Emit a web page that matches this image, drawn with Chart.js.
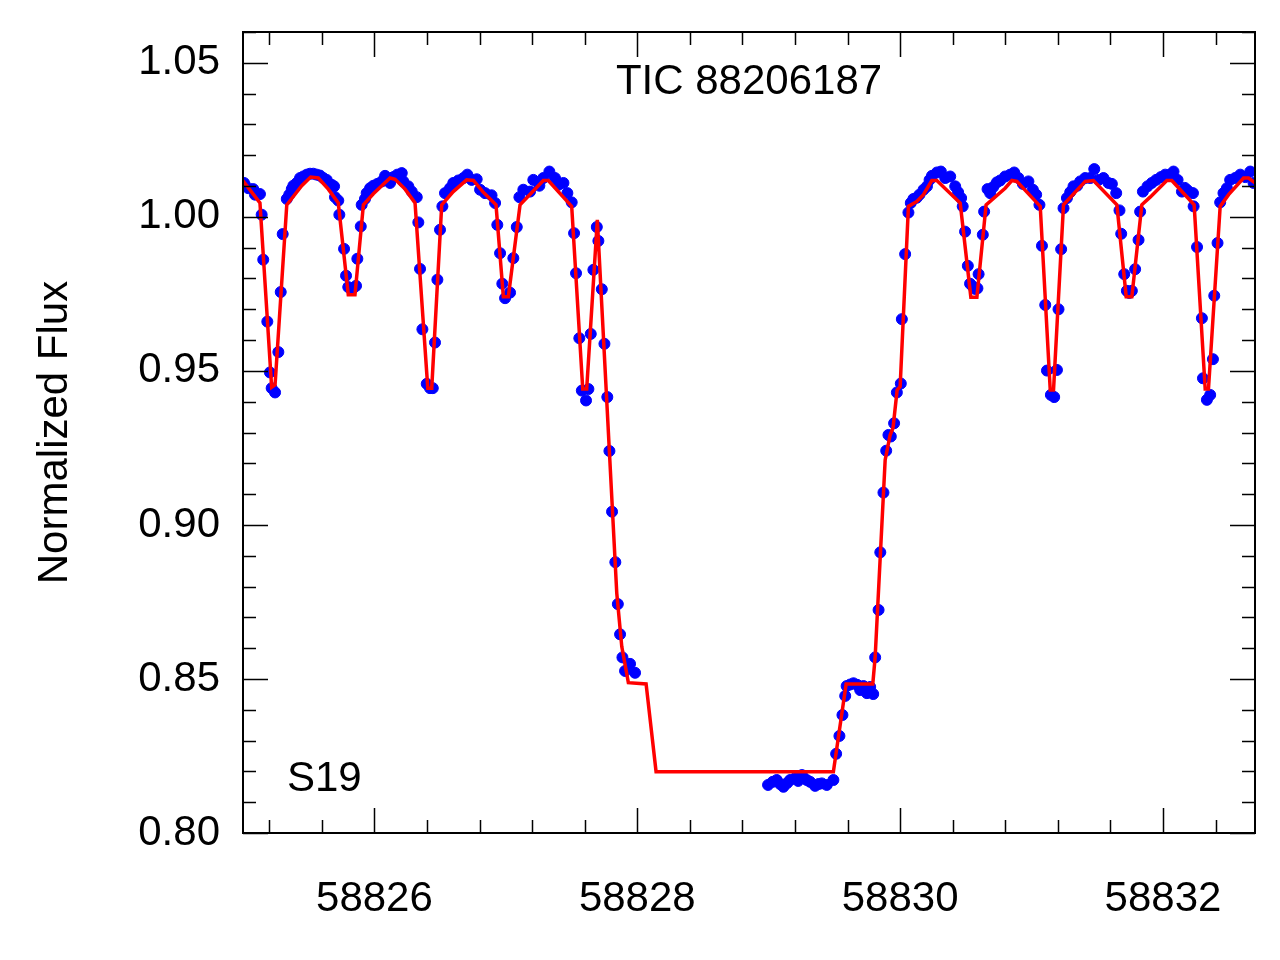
<!DOCTYPE html>
<html>
<head>
<meta charset="utf-8">
<script src="https://cdn.jsdelivr.net/npm/chart.js@4.4.1/dist/chart.umd.min.js"></script>
<style>
html, body { margin: 0; padding: 0; background: #fff; }
#wrap { width: 1280px; height: 960px; }
</style>
</head>
<body>
<div id="wrap"><canvas id="lc" width="1280" height="960"></canvas></div>
<script>
var obsTime = [
  58825.008, 58825.040, 58825.078, 58825.091, 58825.129, 58825.142, 58825.154, 58825.185, 58825.205, 58825.218,
  58825.244, 58825.269, 58825.287, 58825.302, 58825.333, 58825.352, 58825.371, 58825.383, 58825.409, 58825.434,
  58825.459, 58825.485, 58825.510, 58825.535, 58825.561, 58825.586, 58825.611, 58825.637, 58825.675, 58825.693,
  58825.700, 58825.725, 58825.733, 58825.769, 58825.784, 58825.801, 58825.839, 58825.860, 58825.870, 58825.896,
  58825.903, 58825.928, 58825.941, 58825.967, 58825.992,
  58826.022, 58826.056, 58826.081, 58826.119, 58826.144, 58826.174, 58826.208, 58826.220, 58826.258, 58826.284,
  58826.322, 58826.334, 58826.347, 58826.365, 58826.398, 58826.423, 58826.444, 58826.461, 58826.479, 58826.499,
  58826.517, 58826.537, 58826.575, 58826.600, 58826.638, 58826.677, 58826.707, 58826.740, 58826.778, 58826.804,
  58826.842, 58826.891, 58826.918, 58826.935, 58826.956, 58826.973, 58826.994,
  58827.032, 58827.057, 58827.083, 58827.103, 58827.133, 58827.184, 58827.209, 58827.255, 58827.285, 58827.331,
  58827.374, 58827.400, 58827.438, 58827.468, 58827.501, 58827.519, 58827.534, 58827.559, 58827.578, 58827.610,
  58827.628, 58827.646, 58827.666, 58827.692, 58827.704, 58827.730, 58827.750, 58827.772, 58827.788, 58827.808,
  58827.833, 58827.852, 58827.869, 58827.887, 58827.907, 58827.945, 58827.983,
  58828.995, 58829.030, 58829.061, 58829.087, 58829.112, 58829.140, 58829.163, 58829.201, 58829.224, 58829.253,
  58829.290, 58829.315, 58829.353, 58829.379, 58829.404, 58829.442, 58829.492, 58829.513, 58829.538, 58829.561,
  58829.582, 58829.593, 58829.620, 58829.645, 58829.673, 58829.696, 58829.721, 58829.747, 58829.772, 58829.795,
  58829.810, 58829.836, 58829.849, 58829.873, 58829.894, 58829.911, 58829.929, 58829.954, 58829.975,
  58830.005, 58830.013, 58830.038, 58830.063, 58830.081, 58830.101, 58830.126, 58830.147, 58830.178, 58830.204,
  58830.224, 58830.242, 58830.280, 58830.310, 58830.343, 58830.381, 58830.419, 58830.441, 58830.464, 58830.476,
  58830.494, 58830.515, 58830.532, 58830.553, 58830.571, 58830.588, 58830.597, 58830.629, 58830.639, 58830.665,
  58830.685, 58830.708, 58830.736, 58830.761, 58830.799, 58830.837, 58830.868, 58830.900, 58830.934, 58830.976,
  58831.010, 58831.035, 58831.060, 58831.079, 58831.104, 58831.117, 58831.147, 58831.172, 58831.193, 58831.205,
  58831.225, 58831.243, 58831.269, 58831.294, 58831.319, 58831.347, 58831.370, 58831.408, 58831.446, 58831.477,
  58831.510, 58831.547, 58831.585, 58831.611, 58831.644, 58831.669, 58831.682, 58831.705, 58831.725, 58831.743,
  58831.763, 58831.788, 58831.814, 58831.826, 58831.847, 58831.882, 58831.915, 58831.948, 58831.984,
  58832.017, 58832.050, 58832.080, 58832.111, 58832.144, 58832.166, 58832.187, 58832.228, 58832.233, 58832.259,
  58832.296, 58832.304, 58832.334, 58832.359, 58832.380, 58832.390, 58832.415, 58832.435, 58832.460, 58832.486,
  58832.511, 58832.549, 58832.588, 58832.626, 58832.664, 58832.689
];
var obsFlux = [
  1.0110, 1.0093, 1.0090, 1.0072, 1.0074, 1.0007, 0.9861, 0.9660, 0.9495, 0.9444,
  0.9430, 0.9561, 0.9756, 0.9944, 1.0058, 1.0072, 1.0090, 1.0101, 1.0110, 1.0126,
  1.0131, 1.0137, 1.0140, 1.0140, 1.0137, 1.0134, 1.0126, 1.0120, 1.0104, 1.0099,
  1.0064, 1.0053, 1.0007, 0.9896, 0.9809, 0.9772, 0.9769, 0.9776, 0.9864, 0.9969,
  1.0039, 1.0058, 1.0077, 1.0093, 1.0101,
  1.0107, 1.0115, 1.0133, 1.0110, 1.0129, 1.0137, 1.0142, 1.0115, 1.0099, 1.0082,
  1.0064, 0.9982, 0.9831, 0.9635, 0.9458, 0.9444, 0.9444, 0.9592, 0.9796, 0.9958,
  1.0034, 1.0077, 1.0093, 1.0110, 1.0118, 1.0126, 1.0137, 1.0120, 1.0122, 1.0088,
  1.0077, 1.0070, 1.0045, 0.9974, 0.9882, 0.9783, 0.9736,
  0.9754, 0.9866, 0.9967, 1.0064, 1.0088, 1.0082, 1.0120, 1.0101, 1.0126, 1.0147,
  1.0126, 1.0104, 1.0110, 1.0077, 1.0047, 0.9947, 0.9817, 0.9606, 0.9436, 0.9404,
  0.9441, 0.9620, 0.9828, 0.9967, 0.9922, 0.9765, 0.9588, 0.9415, 0.9240, 0.9043,
  0.8879, 0.8743, 0.8645, 0.8570, 0.8526, 0.8549, 0.8520,
  0.8156, 0.8166, 0.8172, 0.8159, 0.8150, 0.8162, 0.8172, 0.8178, 0.8169, 0.8188,
  0.8172, 0.8166, 0.8153, 0.8159, 0.8161, 0.8156, 0.8172, 0.8257, 0.8315, 0.8383,
  0.8445, 0.8477, 0.8482, 0.8486, 0.8481, 0.8464, 0.8477, 0.8454, 0.8474, 0.8451,
  0.8570, 0.8724, 0.8911, 0.9105, 0.9241, 0.9292, 0.9287, 0.9330, 0.9430,
  0.9459, 0.9668, 0.9879, 1.0014, 1.0045, 1.0058, 1.0062, 1.0072, 1.0088, 1.0099,
  1.0120, 1.0133, 1.0144, 1.0147, 1.0126, 1.0131, 1.0099, 1.0080, 1.0061, 1.0034,
  0.9952, 0.9841, 0.9783, 0.9774, 0.9766, 0.9768, 0.9814, 0.9942, 1.0017, 1.0090,
  1.0077, 1.0097, 1.0112, 1.0118, 1.0131, 1.0137, 1.0144, 1.0126, 1.0107, 1.0115,
  1.0088, 1.0072, 1.0039, 0.9906, 0.9714, 0.9501, 0.9422, 0.9415, 0.9503, 0.9700,
  0.9895, 1.0028, 1.0061, 1.0080, 1.0099, 1.0101, 1.0115, 1.0126, 1.0126, 1.0155,
  1.0120, 1.0126, 1.0110, 1.0107, 1.0077, 1.0021, 0.9945, 0.9814, 0.9760, 0.9753,
  0.9760, 0.9830, 0.9925, 1.0017, 1.0082, 1.0099, 1.0110, 1.0120, 1.0129,
  1.0137, 1.0137, 1.0147, 1.0120, 1.0082, 1.0094, 1.0086, 1.0077, 1.0034, 0.9902,
  0.9671, 0.9476, 0.9406, 0.9422, 0.9538, 0.9744, 0.9915, 1.0047, 1.0077, 1.0093,
  1.0120, 1.0126, 1.0137, 1.0129, 1.0147, 1.0110
];

// model curve vertices
var modelTime = [
  58825.000, 58825.129, 58825.218, 58825.244, 58825.333, 58825.383, 58825.447, 58825.515, 58825.573, 58825.649,
  58825.725, 58825.801, 58825.852, 58825.916, 58825.992, 58826.056, 58826.119, 58826.157, 58826.233, 58826.309,
  58826.406, 58826.436, 58826.512, 58826.600, 58826.702, 58826.753, 58826.826, 58826.925, 58826.981, 58827.019,
  58827.108, 58827.285, 58827.323, 58827.501, 58827.585, 58827.615, 58827.696, 58827.844, 58827.882, 58827.932,
  58828.067, 58828.143, 58829.492, 58829.589, 58829.792, 58829.810, 58829.886, 58829.924, 58829.946, 58829.977,
  58830.000, 58830.063, 58830.127, 58830.177, 58830.241, 58830.279, 58830.457, 58830.538, 58830.584, 58830.654,
  58830.799, 58830.850, 58830.888, 58831.066, 58831.142, 58831.167, 58831.243, 58831.408, 58831.471, 58831.649,
  58831.720, 58831.763, 58831.839, 58831.902, 58832.029, 58832.067, 58832.237, 58832.321, 58832.346, 58832.435,
  58832.499, 58832.613, 58832.651, 58832.700
];
var modelFlux = [
  1.0117, 1.0045, 0.9447, 0.9455, 1.0039, 1.0066, 1.0101, 1.0129, 1.0126, 1.0090,
  1.0045, 0.9747, 0.9747, 1.0039, 1.0075, 1.0101, 1.0126, 1.0122, 1.0090, 1.0045,
  0.9444, 0.9444, 1.0039, 1.0082, 1.0120, 1.0118, 1.0081, 1.0039, 0.9741, 0.9741,
  1.0039, 1.0118, 1.0118, 1.0034, 0.9441, 0.9441, 0.9990, 0.8778, 0.8605, 0.8488,
  0.8484, 0.8199, 0.8199, 0.8484, 0.8484, 0.8572, 0.9211, 0.9292, 0.9315, 0.9438,
  0.9449, 1.0034, 1.0050, 1.0072, 1.0118, 1.0118, 1.0045, 0.9739, 0.9739, 1.0039,
  1.0093, 1.0118, 1.0115, 1.0034, 0.9438, 0.9438, 1.0039, 1.0115, 1.0118, 1.0039,
  0.9741, 0.9741, 1.0039, 1.0064, 1.0118, 1.0118, 1.0039, 0.9441, 0.9441, 1.0034,
  1.0072, 1.0126, 1.0126, 1.0110
];

// axes
var xMajor = [58826, 58828, 58830, 58832];
var yMajor = [0.80, 0.85, 0.90, 0.95, 1.00, 1.05];
var xMinorStep = 0.4;
var yMinorStep = 0.01;
var FONT = '"Liberation Sans", Arial, Helvetica, sans-serif';

function pairs(xs, ys) {
  return xs.map(function(x, i) { return {x: x, y: ys[i]}; });
}

function isMajor(list, v) {
  return list.some(function(m) { return Math.abs(m - v) < 1e-6; });
}

// box, inward ticks on all four sides, and the two labels inside the plot
var framePlugin = {
  id: 'frame',
  afterDraw: function(chart) {
    var ctx = chart.ctx;
    var a = chart.chartArea;
    var xs = chart.scales.x, ys = chart.scales.y;
    ctx.save();
    ctx.strokeStyle = '#000';
    ctx.lineWidth = 1.5;
    ctx.beginPath();
    var k, v, p, len;
    for (k = Math.ceil(xs.min / xMinorStep - 1e-6); k * xMinorStep <= xs.max + 1e-6; k++) {
      v = k * xMinorStep;
      p = Math.round(xs.getPixelForValue(v)) + 0.5;
      len = isMajor(xMajor, v) ? 25 : 13;
      ctx.moveTo(p, a.bottom); ctx.lineTo(p, a.bottom - len);
      ctx.moveTo(p, a.top); ctx.lineTo(p, a.top + len);
    }
    for (k = Math.ceil(ys.min / yMinorStep - 1e-6); k * yMinorStep <= ys.max + 1e-6; k++) {
      v = k * yMinorStep;
      p = Math.round(ys.getPixelForValue(v)) + 0.5;
      len = isMajor(yMajor, v) ? 25 : 13;
      ctx.moveTo(a.left, p); ctx.lineTo(a.left + len, p);
      ctx.moveTo(a.right, p); ctx.lineTo(a.right - len, p);
    }
    ctx.stroke();
    ctx.lineWidth = 2;
    ctx.strokeRect(a.left, a.top, a.right - a.left, a.bottom - a.top);

    ctx.fillStyle = '#000';
    ctx.font = '42px ' + FONT;
    ctx.textBaseline = 'middle';
    ctx.textAlign = 'center';
    ctx.fillText('TIC 88206187', (a.left + a.right) / 2, a.top + 50);
    ctx.textAlign = 'left';
    ctx.fillText('S19', a.left + 44, a.bottom - 54);
    ctx.restore();
  }
};

new Chart(document.getElementById('lc'), {
  type: 'scatter',
  data: {
    datasets: [
      {
        label: 'model',
        data: pairs(modelTime, modelFlux),
        showLine: true,
        borderColor: '#ff0000',
        borderWidth: 3.5,
        pointRadius: 0,
        tension: 0,
        order: 0
      },
      {
        label: 'TESS',
        data: pairs(obsTime, obsFlux),
        backgroundColor: '#0000ff',
        borderColor: '#0000ff',
        borderWidth: 1,
        pointRadius: 5.5,
        order: 1
      }
    ]
  },
  options: {
    responsive: false,
    animation: false,
    devicePixelRatio: 1,
    layout: { padding: { top: 32, right: 25, left: 0, bottom: 0 } },
    plugins: { legend: { display: false }, tooltip: { enabled: false } },
    scales: {
      x: {
        type: 'linear',
        min: 58825.0,
        max: 58832.7,
        grid: { display: false },
        border: { display: false },
        afterBuildTicks: function(s) { s.ticks = xMajor.map(function(v) { return {value: v}; }); },
        afterFit: function(s) { s.height = 127; s.paddingLeft = 0; s.paddingRight = 0; },
        ticks: {
          color: '#000',
          font: { family: FONT, size: 42 },
          padding: 33,
          maxRotation: 0,
          autoSkip: false,
          callback: function(v) { return String(v); }
        }
      },
      y: {
        type: 'linear',
        min: 0.80,
        max: 1.06,
        grid: { display: false },
        border: { display: false },
        afterBuildTicks: function(s) { s.ticks = yMajor.map(function(v) { return {value: v}; }); },
        afterFit: function(s) { s.width = 243; s.paddingTop = 0; s.paddingBottom = 0; },
        title: {
          display: true,
          text: 'Normalized Flux',
          color: '#000',
          font: { family: FONT, size: 42 },
          padding: { top: 30, bottom: 0 }
        },
        ticks: {
          color: '#000',
          font: { family: FONT, size: 42 },
          padding: 15,
          autoSkip: false,
          callback: function(v) { return v.toFixed(2); }
        }
      }
    }
  },
  plugins: [framePlugin]
});
</script>
</body>
</html>
